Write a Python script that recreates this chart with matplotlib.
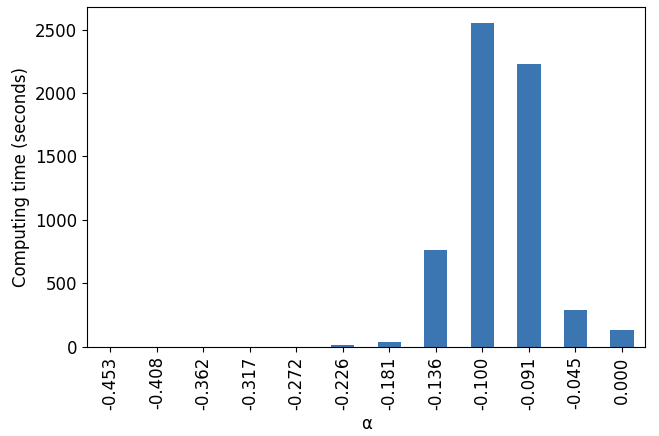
import pandas as pd
import matplotlib.pyplot as plt

# alpha values and computing times
alphas = ['-0.453', '-0.408', '-0.362', '-0.317', '-0.272', '-0.226',
          '-0.181', '-0.136', '-0.100', '-0.091', '-0.045', '0.000']
times = [0, 0, 0, 0, 0, 12, 35, 759, 2551, 2230, 287, 130]

df = pd.DataFrame({'alpha': alphas, 'time': times}).set_index('alpha')

fig, ax = plt.subplots(figsize=(6.59, 4.36), dpi=100)
df['time'].plot(kind='bar', ax=ax, color='#3b76b2', width=0.5)

ax.set_xlabel('α', fontsize=12)
ax.set_ylabel('Computing time (seconds)', fontsize=12)
ax.tick_params(labelsize=12)
ax.set_xlim(-0.5, len(alphas) - 0.5)

fig.subplots_adjust(left=0.132, right=0.979, top=0.984, bottom=0.205)
fig.savefig('out.png', dpi=100)
